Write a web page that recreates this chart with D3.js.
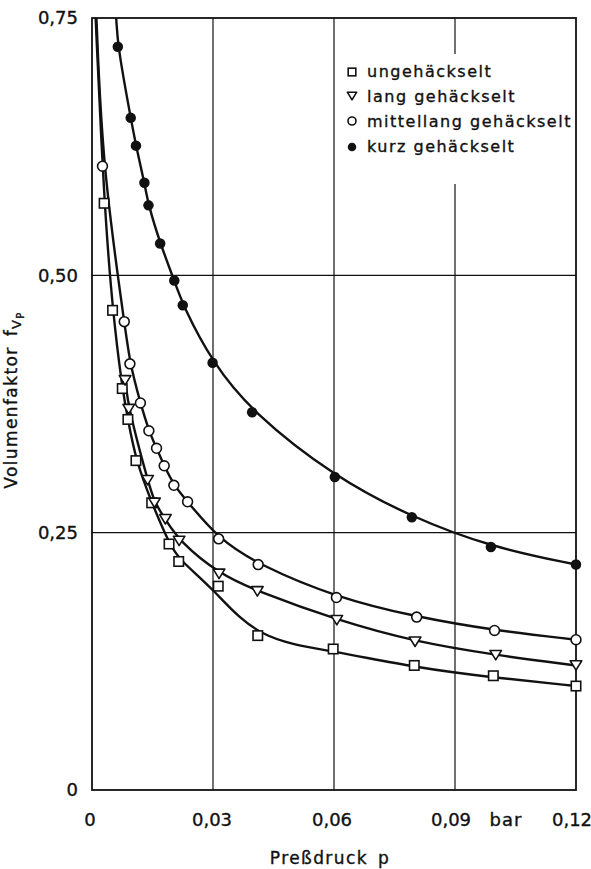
<!DOCTYPE html>
<html><head><meta charset="utf-8">
<script src="https://cdn.jsdelivr.net/npm/d3@7"></script>
<style>
body{margin:0;background:#fff}
text{font-family:"DejaVu Sans",sans-serif;fill:#111;stroke:#111;stroke-width:0.35px}
</style>
</head><body>
<svg id="c" width="591" height="869"></svg>
<script>
// ---- data ----
const xTicks = [0, 0.03, 0.06, 0.09, 0.12];
const xTickLabels = ["0", "0,03", "0,06", "0,09", "0,12"];
const yTicks = [0, 0.25, 0.5, 0.75];
const yTickLabels = ["0", "0,25", "0,50", "0,75"];
const seriesNames = ["ungehäckselt", "lang gehäckselt", "mittellang gehäckselt", "kurz gehäckselt"];

// measured points (markers)
const ungP = [0.0030, 0.0051, 0.0075, 0.0089, 0.0109, 0.0148, 0.0191, 0.0215, 0.0313, 0.0411, 0.0598, 0.0799, 0.0995, 0.12];
const ungV = [0.570, 0.466, 0.390, 0.360, 0.320, 0.279, 0.239, 0.222, 0.198, 0.150, 0.137, 0.121, 0.111, 0.101];

const langP = [0.0082, 0.0091, 0.0138, 0.0155, 0.0182, 0.0216, 0.0315, 0.0410, 0.0607, 0.0801, 0.1001, 0.12];
const langV = [0.398, 0.370, 0.301, 0.279, 0.263, 0.242, 0.210, 0.193, 0.165, 0.144, 0.131, 0.121];

const mittelP = [0.0026, 0.0080, 0.0094, 0.0120, 0.0141, 0.0160, 0.0179, 0.0203, 0.0237, 0.0314, 0.0412, 0.0606, 0.0805, 0.0998, 0.12];
const mittelV = [0.606, 0.455, 0.414, 0.376, 0.349, 0.332, 0.315, 0.296, 0.280, 0.244, 0.219, 0.187, 0.168, 0.155, 0.146];

const kurzP = [0.0064, 0.0096, 0.0109, 0.0130, 0.0140, 0.0169, 0.0204, 0.0225, 0.0299, 0.0397, 0.0602, 0.0793, 0.0989, 0.12];
const kurzV = [0.722, 0.653, 0.626, 0.590, 0.568, 0.531, 0.495, 0.471, 0.415, 0.367, 0.304, 0.265, 0.236, 0.219];

// drawn (fitted) curves: control nodes read along the lines of the picture
const ungLineP = [0.0009, 0.0030, 0.0051, 0.0075, 0.0089, 0.0109, 0.0148, 0.0191, 0.0215, 0.0300, 0.0410, 0.0600, 0.0800, 0.1000, 0.12];
const ungLineV = [0.750, 0.570, 0.466, 0.390, 0.360, 0.320, 0.279, 0.240, 0.224, 0.196, 0.146, 0.135, 0.119, 0.109, 0.101];
const langLineP = langP;
const langLineV = langV;
const mittelLineP = [0.0011].concat(mittelP);
const mittelLineV = [0.750].concat(mittelV);
const kurzLineP = [0.0060].concat(kurzP);
const kurzLineV = [0.750].concat(kurzV);

// ---- chart ----
const svg = d3.select("#c");
const x = d3.scaleLinear().domain([0, 0.12]).range([92, 576]);
const y = d3.scaleLinear().domain([0, 0.75]).range([790, 18]);

const zip = (P, V) => P.map((p, i) => [p, V[i]]);
const series = [
  {name: seriesNames[0], pts: zip(ungP, ungV), line: zip(ungLineP, ungLineV), sym: "square"},
  {name: seriesNames[1], pts: zip(langP, langV), line: zip(langLineP, langLineV), sym: "tri"},
  {name: seriesNames[2], pts: zip(mittelP, mittelV), line: zip(mittelLineP, mittelLineV), sym: "circle"},
  {name: seriesNames[3], pts: zip(kurzP, kurzV), line: zip(kurzLineP, kurzLineV), sym: "dot"}
];

// grid
const g = svg.append("g");
g.selectAll(".gx").data(xTicks.slice(1, -1)).join("line")
  .attr("x1", d => x(d)).attr("x2", d => x(d))
  .attr("y1", y(0.75)).attr("y2", y(0))
  .attr("stroke", "#111").attr("stroke-width", 1.2);
g.selectAll(".gy").data(yTicks.slice(1, -1)).join("line")
  .attr("x1", x(0)).attr("x2", x(0.12))
  .attr("y1", d => y(d)).attr("y2", d => y(d))
  .attr("stroke", "#111").attr("stroke-width", 1.2);

// legend background interrupts gridline
svg.append("rect").attr("x", 342).attr("y", 54).attr("width", 228).attr("height", 130).attr("fill", "#fff");

// frame
svg.append("rect").attr("x", x(0)).attr("y", y(0.75))
  .attr("width", x(0.12) - x(0)).attr("height", y(0) - y(0.75))
  .attr("fill", "none").attr("stroke", "#111").attr("stroke-width", 1.8);

// tick labels
svg.selectAll(".xl").data(xTicks).join("text")
  .attr("x", (d, i) => x(d) + [-2, -1, -2, -4, -4][i]).attr("y", 826)
  .attr("text-anchor", "middle").attr("font-size", 18)
  .text((d, i) => xTickLabels[i]);
svg.append("text").attr("x", 506).attr("y", 826).attr("text-anchor", "middle")
  .attr("font-size", 18).attr("letter-spacing", 1).text("bar");
svg.selectAll(".yl").data(yTicks).join("text")
  .attr("x", 78).attr("y", d => y(d)).attr("dy", "0.36em")
  .attr("text-anchor", "end").attr("font-size", 18)
  .text((d, i) => yTickLabels[i]);

// axis titles
const xt = svg.append("text").attr("x", 330).attr("y", 864).attr("text-anchor", "middle")
  .attr("font-size", 17).attr("letter-spacing", 1.4);
xt.append("tspan").text("Preßdruck");
xt.append("tspan").attr("dx", 10).text("p");

const yt = svg.append("text").attr("transform", "translate(17,400) rotate(-90)")
  .attr("text-anchor", "middle").attr("font-size", 17).attr("letter-spacing", 1.4);
yt.append("tspan").text("Volumenfaktor");
yt.append("tspan").attr("dx", 10).text("f");
yt.append("tspan").attr("font-size", 13).attr("dy", 4).text("V");
yt.append("tspan").attr("font-size", 10).attr("dy", 3).text("P");

// curves
svg.append("clipPath").attr("id", "clip").append("rect")
  .attr("x", x(0)).attr("y", y(0.75)).attr("width", x(0.12) - x(0)).attr("height", y(0) - y(0.75));
const line = d3.line().x(d => x(d[0])).y(d => y(d[1])).curve(d3.curveBasis);
svg.append("g").attr("clip-path", "url(#clip)").selectAll("path").data(series).join("path")
  .attr("d", s => line(s.line))
  .attr("fill", "none").attr("stroke", "#111").attr("stroke-width", 2.4);

// markers
function drawSym(sel, sym, size) {
  if (sym === "square") {
    sel.append("rect").attr("x", -size * 0.45).attr("y", -size * 0.45)
      .attr("width", size * 0.9).attr("height", size * 0.9)
      .attr("fill", "#fff").attr("stroke", "#111").attr("stroke-width", 1.6);
  } else if (sym === "tri") {
    const w = size * 0.55, h = size * 0.45;
    sel.append("path").attr("d", `M${-w},${-h}L${w},${-h}L0,${h}Z`)
      .attr("fill", "#fff").attr("stroke", "#111").attr("stroke-width", 1.6).attr("stroke-linejoin", "round");
  } else if (sym === "circle") {
    sel.append("circle").attr("r", size * 0.47)
      .attr("fill", "#fff").attr("stroke", "#111").attr("stroke-width", 1.6);
  } else {
    sel.append("circle").attr("r", size * 0.5).attr("fill", "#111");
  }
}
series.forEach(s => {
  svg.append("g").selectAll("g").data(s.pts).join("g")
    .attr("transform", d => `translate(${x(d[0])},${y(d[1])})`)
    .each(function () { drawSym(d3.select(this), s.sym, 10.5); });
});

// legend
const legY = [72, 96, 121, 147];
const legBase = [77, 102, 127, 152];
series.forEach((s, i) => {
  drawSym(svg.append("g").attr("transform", `translate(352,${legY[i]})`), s.sym, 8.5);
  svg.append("text").attr("x", 367).attr("y", legBase[i]).attr("font-size", 16)
    .attr("letter-spacing", 1.5).text(s.name);
});
</script>
</body></html>
